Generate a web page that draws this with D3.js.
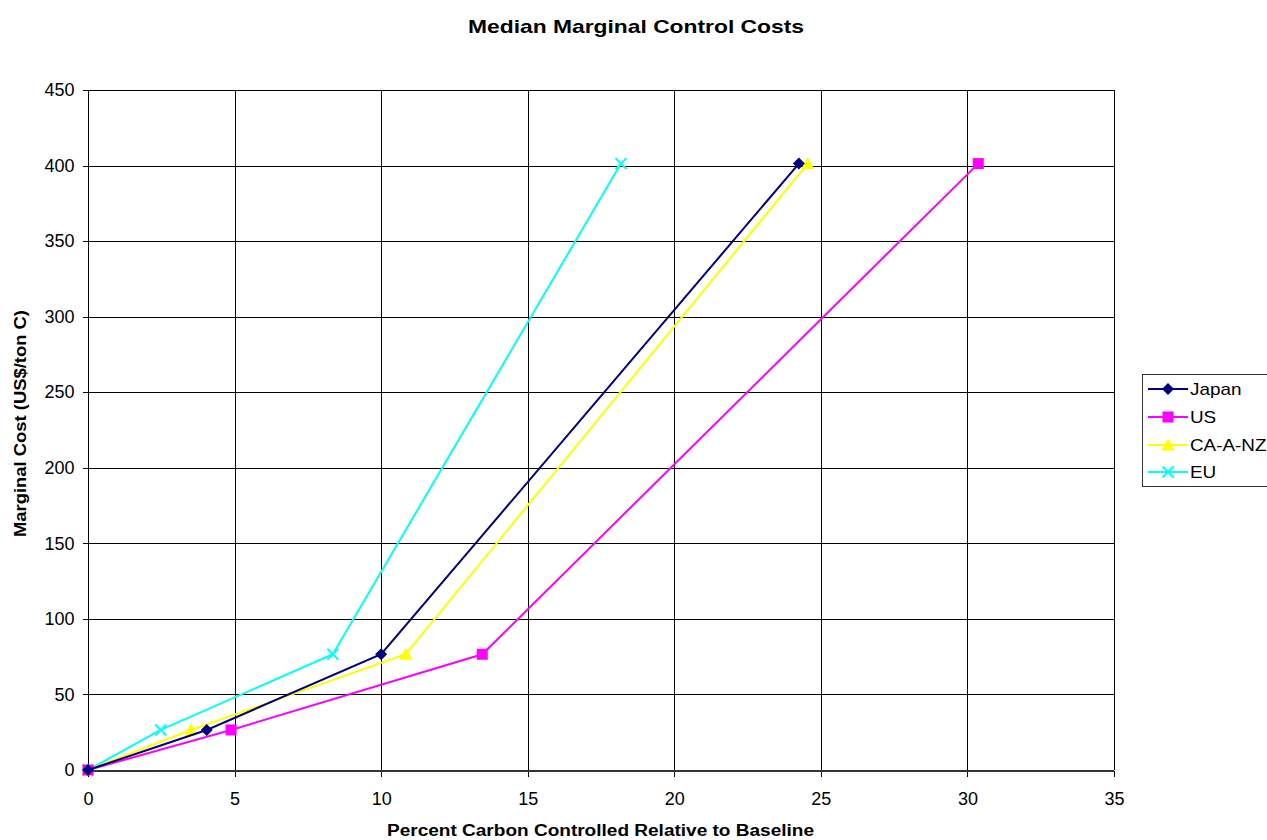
<!DOCTYPE html>
<html><head><meta charset="utf-8">
<script src="https://cdn.jsdelivr.net/npm/d3@7"></script>
<style>body{margin:0;background:#fff;}svg{display:block;font-family:Arial,"Liberation Sans",sans-serif;}</style>
</head><body>
<svg id="c" width="1267" height="840"></svg>
<script>
const seriesNames = ["Japan", "US", "CA-A-NZ", "EU"];
const seriesColors = ["#000080", "#FF00FF", "#FFFF00", "#00FFFF"];
const seriesMarkers = ["diamond", "square", "triangle", "x"];
const costs = [0, 26.5, 76.6, 401.3];
const japanX = [0, 4.05, 10.0, 24.25];
const usX = [0, 4.88, 13.45, 30.37];
const caX = [0, 3.51, 10.84, 24.55];
const euX = [0, 2.48, 8.35, 18.18];
const xTicks = [0, 5, 10, 15, 20, 25, 30, 35];
const yTicks = [0, 50, 100, 150, 200, 250, 300, 350, 400, 450];

const seriesX = [japanX, usX, caX, euX];
const svg = d3.select("#c");
const L = 88, R = 1114, T = 90, B = 770;
const x = d3.scaleLinear().domain([0, 35]).range([L, R]);
const y = d3.scaleLinear().domain([0, 450]).range([B, T]);

// gridlines
const g = svg.append("g").attr("shape-rendering", "crispEdges");
g.selectAll(".vg").data(xTicks).enter().append("line")
  .attr("x1", d => Math.round(x(d)) + 0.5).attr("x2", d => Math.round(x(d)) + 0.5)
  .attr("y1", T).attr("y2", B).attr("stroke", "#000").attr("stroke-width", 1);
g.selectAll(".hg").data(yTicks).enter().append("line")
  .attr("y1", d => Math.round(y(d)) + 0.5).attr("y2", d => Math.round(y(d)) + 0.5)
  .attr("x1", L).attr("x2", R).attr("stroke", "#000").attr("stroke-width", 1);

// axes
const xAxis = d3.axisBottom(x).tickValues(xTicks).tickSize(6).tickPadding(16).tickFormat(d3.format("d"));
const yAxis = d3.axisLeft(y).tickValues(yTicks).tickSize(6).tickPadding(8).tickFormat(d3.format("d"));
const xa = svg.append("g").attr("transform", `translate(0,${B + 0.5})`).call(xAxis);
const ya = svg.append("g").attr("transform", `translate(${L + 0.5},0)`).call(yAxis);
[xa, ya].forEach(a => {
  a.attr("shape-rendering", "crispEdges");
  a.selectAll("path").attr("stroke", "#000");
  a.selectAll("line").attr("stroke", "#000");
  a.selectAll("text").attr("font-size", 18).attr("fill", "#000").attr("font-family", "Arial, 'Liberation Sans', sans-serif");
});
xa.select(".domain").remove();
ya.select(".domain").remove();
svg.append("line").attr("x1", L).attr("x2", R).attr("y1", B + 0.5).attr("y2", B + 0.5).attr("stroke", "#333").attr("stroke-width", 2).attr("shape-rendering","crispEdges");
svg.append("line").attr("x1", L + 0.5).attr("x2", L + 0.5).attr("y1", T).attr("y2", B).attr("stroke", "#000").attr("stroke-width", 1).attr("shape-rendering","crispEdges");

// marker drawing
function drawMarker(sel, type, color, size) {
  const s = size;
  if (type === "diamond") {
    sel.append("path").attr("d", `M0,${-s}L${s},0L0,${s}L${-s},0Z`).attr("fill", color);
  } else if (type === "square") {
    sel.append("rect").attr("x", -s).attr("y", -s).attr("width", 2 * s).attr("height", 2 * s).attr("fill", color);
  } else if (type === "triangle") {
    sel.append("path").attr("d", `M0,${-s - 1}L${s + 1},${s}L${-s - 1},${s}Z`).attr("fill", color);
  } else if (type === "x") {
    sel.append("path").attr("d", `M${-s},${-s}L${s},${s}M${-s},${s}L${s},${-s}`).attr("stroke", color).attr("stroke-width", 2).attr("fill", "none");
  }
}
const markerSize = [6, 5.5, 5.5, 5.5];

const line = d3.line().x(d => x(d[0])).y(d => y(d[1]));
for (let i = seriesNames.length - 1; i >= 0; i--) {
  const pts = seriesX[i].map((v, j) => [v, costs[j]]);
  svg.append("path").datum(pts).attr("d", line).attr("fill", "none")
    .attr("stroke", seriesColors[i]).attr("stroke-width", 2);
  pts.forEach(p => {
    const m = svg.append("g").attr("transform", `translate(${x(p[0])},${y(p[1])})`);
    drawMarker(m, seriesMarkers[i], seriesColors[i], markerSize[i]);
  });
}

// titles
svg.append("text").attr("x", 636).attr("y", 33).attr("text-anchor", "middle")
  .attr("font-size", 19).attr("font-weight", "bold")
  .attr("textLength", 336).attr("lengthAdjust", "spacingAndGlyphs")
  .text("Median Marginal Control Costs");
svg.append("text").attr("x", 600.5).attr("y", 836).attr("text-anchor", "middle")
  .attr("font-size", 16).attr("font-weight", "bold")
  .attr("textLength", 427).attr("lengthAdjust", "spacingAndGlyphs")
  .text("Percent Carbon Controlled Relative to Baseline");
svg.append("text").attr("transform", `translate(26,423.5) rotate(-90)`).attr("text-anchor", "middle")
  .attr("font-size", 16).attr("font-weight", "bold")
  .attr("textLength", 227).attr("lengthAdjust", "spacingAndGlyphs")
  .text("Marginal Cost (US$/ton C)");

// legend
const lg = svg.append("g");
lg.append("rect").attr("x", 1142.5).attr("y", 374.5).attr("width", 140).attr("height", 112)
  .attr("fill", "#fff").attr("stroke", "#333").attr("stroke-width", 1).attr("shape-rendering","crispEdges");
const legY = [389, 417, 445, 472];
seriesNames.forEach((n, i) => {
  lg.append("line").attr("x1", 1148).attr("x2", 1188).attr("y1", legY[i]).attr("y2", legY[i])
    .attr("stroke", seriesColors[i]).attr("stroke-width", 2);
  const m = lg.append("g").attr("transform", `translate(1168,${legY[i]})`);
  drawMarker(m, seriesMarkers[i], seriesColors[i], markerSize[i]);
  lg.append("text").attr("transform", `translate(1190,${legY[i] + 6}) scale(1.18,1)`)
    .attr("font-size", 16).text(n);
});
</script>
</body></html>
